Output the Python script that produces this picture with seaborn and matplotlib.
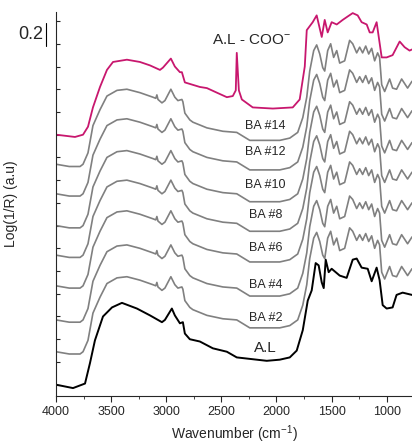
import matplotlib
matplotlib.use("Agg")
import matplotlib.pyplot as plt
import matplotlib.transforms as mtransforms
from matplotlib.ticker import MultipleLocator
import numpy as np
import pandas as pd
import seaborn as sns

# A.L (reference), black trace
al_wn = [4000, 3846, 3737, 3692, 3647, 3574, 3492, 3402, 3266, 3148, 3039, 3012,
         2949, 2922, 2876, 2849, 2831, 2786, 2695, 2577, 2450, 2360, 2269, 2088,
         1970, 1879, 1816, 1761, 1716, 1680, 1644, 1617, 1589, 1571, 1553, 1526,
         1499, 1426, 1363, 1308, 1272, 1227, 1172, 1136, 1091, 1064, 1036, 1000,
         946, 910, 855, 770]
al_y = [0.00, -0.03, 0.01, 0.19, 0.39, 0.60, 0.68, 0.72, 0.67, 0.61, 0.55, 0.57,
        0.67, 0.61, 0.54, 0.55, 0.45, 0.40, 0.38, 0.32, 0.29, 0.24, 0.23, 0.21,
        0.22, 0.24, 0.30, 0.48, 0.74, 0.83, 1.07, 1.05, 0.90, 0.85, 1.10, 0.99,
        1.02, 0.96, 0.94, 1.10, 1.11, 1.03, 1.02, 0.91, 1.03, 0.92, 0.70, 0.67,
        0.68, 0.79, 0.81, 0.79]

# A.L - COO-, magenta trace
coo_wn = [4000, 3828, 3755, 3710, 3665, 3601, 3538, 3483, 3357, 3239, 3148, 3057,
          3030, 2958, 2922, 2876, 2858, 2831, 2695, 2631, 2541, 2450, 2396, 2369,
          2360, 2341, 2314, 2215, 2033, 1852, 1789, 1743, 1725, 1671, 1635, 1589,
          1562, 1535, 1499, 1453, 1399, 1354, 1308, 1263, 1227, 1181, 1154, 1127,
          1091, 1045, 1000, 946, 882, 837, 792, 770]
coo_y = [2.20, 2.18, 2.20, 2.27, 2.44, 2.62, 2.77, 2.84, 2.86, 2.84, 2.81, 2.77,
         2.79, 2.87, 2.80, 2.75, 2.75, 2.66, 2.62, 2.61, 2.57, 2.53, 2.54, 2.59,
         2.92, 2.59, 2.51, 2.44, 2.43, 2.44, 2.51, 2.80, 3.12, 3.19, 3.25, 3.06,
         3.21, 3.10, 3.19, 3.17, 3.21, 3.24, 3.27, 3.25, 3.19, 3.17, 3.10, 3.10,
         3.19, 2.88, 2.88, 2.90, 3.02, 2.97, 2.94, 2.95]

# BA samples: common profile (BA #2), stacked upward
ba_wn = [4000, 3880, 3782, 3755, 3710, 3665, 3601, 3538, 3447, 3357, 3239, 3121,
         3095, 3085, 3075, 3039, 3012, 2958, 2922, 2894, 2858, 2849, 2831, 2786,
         2758, 2631, 2486, 2360, 2242, 2124, 1970, 1879, 1807, 1761, 1725, 1698,
         1662, 1635, 1607, 1580, 1562, 1535, 1508, 1481, 1453, 1426, 1381, 1336,
         1308, 1272, 1245, 1218, 1190, 1163, 1136, 1109, 1082, 1064, 1045, 1018,
         973, 946, 910, 864, 837, 810, 770]
ba_y = [0.29, 0.27, 0.27, 0.29, 0.39, 0.63, 0.77, 0.89, 0.94, 0.95, 0.92, 0.88,
        0.87, 0.90, 0.86, 0.83, 0.85, 0.95, 0.88, 0.85, 0.86, 0.84, 0.74, 0.68,
        0.66, 0.61, 0.58, 0.57, 0.50, 0.50, 0.50, 0.52, 0.57, 0.70, 0.88, 1.11,
        1.29, 1.34, 1.26, 1.14, 1.11, 1.29, 1.35, 1.23, 1.29, 1.18, 1.20, 1.38,
        1.35, 1.27, 1.32, 1.27, 1.33, 1.26, 1.31, 1.20, 1.27, 1.23, 0.99, 0.93,
        1.04, 0.96, 0.95, 1.04, 1.00, 0.96, 1.02]
ba_names = ["BA #2", "BA #4", "BA #6", "BA #8", "BA #10", "BA #12", "BA #14"]
ba_offsets = [0.0, 0.28, 0.58, 0.85, 1.11, 1.39, 1.65]
ba_label_y = [0.59, 0.88, 1.20, 1.49, 1.76, 2.05, 2.28]
label_wn = 2100

plt.figure(figsize=(4.12, 4.43), dpi=100)
sns.set_style("ticks")
plt.rcParams['font.family'] = ['Liberation Sans', 'DejaVu Sans']
plt.rcParams['mathtext.fontset'] = 'custom'
plt.rcParams['mathtext.rm'] = 'Liberation Sans'
plt.rcParams['mathtext.default'] = 'rm'
fig = plt.gcf()
ax = fig.add_axes([0.136, 0.106, 0.864, 0.867])

frames = []
for name, off in zip(ba_names, ba_offsets):
    frames.append(pd.DataFrame({"wn": ba_wn, "y": np.array(ba_y) + off, "curve": name}))
df_ba = pd.concat(frames, ignore_index=True)

sns.lineplot(x="wn", y="y", hue="curve", data=df_ba, palette=["#808080"] * len(ba_names),
             sort=False, estimator=None, legend=False, linewidth=1.2, ax=ax)
sns.lineplot(x=al_wn, y=al_y, sort=False, estimator=None, color="black", linewidth=1.4, ax=ax)
sns.lineplot(x=coo_wn, y=coo_y, sort=False, estimator=None, color="#c8176e", linewidth=1.3, ax=ax)

for name, ly in zip(ba_names, ba_label_y):
    ax.text(label_wn, ly, name, ha="center", va="center", fontsize=9)
ax.text(label_wn, 0.32, "A.L", ha="center", va="center", fontsize=11)
ax.text(2224, 3.03, "A.L - COO$^{-}$", ha="center", va="center", fontsize=11)

# 0.2 scale bar left of the axis
trans = mtransforms.blended_transform_factory(ax.transAxes, ax.transData)
ax.plot([-0.028, -0.028], [2.98, 3.18], transform=trans, color="black", lw=0.8, clip_on=False)
ax.text(-0.037, 3.08, "0.2", transform=trans, ha="right", va="center", fontsize=13)

ax.set_xlim(4000, 770)
ax.set_ylim(-0.1, 3.28)
ax.set_xticks([4000, 3500, 3000, 2500, 2000, 1500, 1000])
ax.xaxis.set_minor_locator(MultipleLocator(250))
ax.set_yticks(np.arange(0, 3.3, 0.2))
ax.set_yticklabels([])
ax.tick_params(axis="x", direction="out", length=4, labelsize=9, pad=3)
ax.tick_params(axis="x", which="minor", direction="out", length=2.5)
ax.tick_params(axis="y", direction="in", length=3)
sns.despine(ax=ax)

ax.set_xlabel("Wavenumber (cm$^{-1}$)", fontsize=10)
ax.set_ylabel("Log(1/R) (a.u)", fontsize=10)
ax.xaxis.set_label_coords(0.5, -0.07)
ax.yaxis.set_label_coords(-0.107, 0.5)

plt.savefig("out.png", dpi=100)
